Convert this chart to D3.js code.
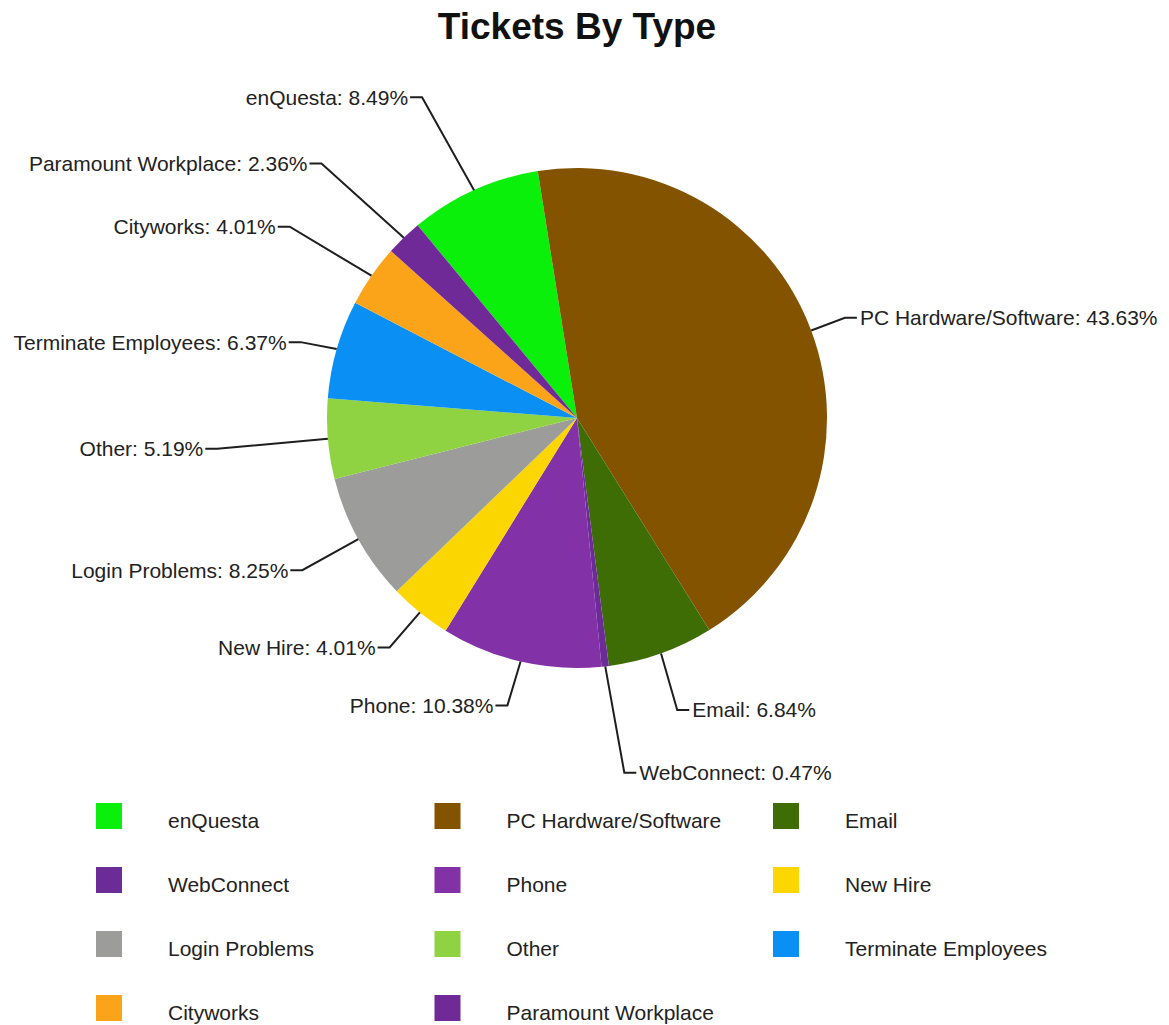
<!DOCTYPE html>
<html>
<head>
<meta charset="utf-8">
<script src="https://cdn.jsdelivr.net/npm/d3@7"></script>
<style>
  html, body { margin: 0; padding: 0; background: #ffffff; }
  svg { display: block; font-family: "Liberation Sans", Arial, sans-serif; }
</style>
</head>
<body>
<svg id="chart" width="1169" height="1025"></svg>
<script>
// Ticket categories, in the order the slices are drawn (clockwise)
const categories = [
  "enQuesta", "PC Hardware/Software", "Email", "WebConnect", "Phone",
  "New Hire", "Login Problems", "Other", "Terminate Employees",
  "Cityworks", "Paramount Workplace"
];

// Number of tickets logged per category
const ticketCounts = [36, 185, 29, 2, 44, 17, 35, 22, 27, 17, 10];

// Slice / legend colours
const sliceColors = [
  "#0af00a", "#845300", "#3f6d05", "#6c2c98", "#8331a6",
  "#fcd600", "#9c9c9a", "#8fd342", "#0a90f4", "#fba41a", "#6f2a98"
];

// Leader-line layout: distance of the elbow beyond the rim (px) and a
// sideways push of the elbow away from the pie (px), chosen so labels stay apart
const labelReach = [102, 36, 60, 107, 45, 45, 64, 118, 25, 86, 103];
const elbowNudge = [10, 0, -4, 7, 3, 2, 0, -7, 12, 11, 11];

const W = 1169, H = 1025;
const cx = 577, cy = 418, radius = 250;
const deg = Math.PI / 180;
const startAngle = -39.6 * deg;

const svg = d3.select("#chart");

// Title
svg.append("text")
  .attr("x", cx).attr("y", 39)
  .attr("text-anchor", "middle")
  .attr("font-size", 37).attr("font-weight", "bold")
  .attr("fill", "#111")
  .text("Tickets By Type");

const total = d3.sum(ticketCounts);
const rows = categories.map((name, i) => ({
  name, value: ticketCounts[i], color: sliceColors[i],
  reach: labelReach[i], nudge: elbowNudge[i]
}));

const pie = d3.pie()
  .sort(null)
  .value(d => d.value)
  .startAngle(startAngle)
  .endAngle(startAngle + 2 * Math.PI);

const arc = d3.arc().innerRadius(0).outerRadius(radius);
const arcs = pie(rows);

const g = svg.append("g").attr("transform", `translate(${cx},${cy})`);

g.selectAll("path.slice")
  .data(arcs)
  .join("path")
  .attr("class", "slice")
  .attr("d", arc)
  .attr("fill", d => d.data.color);

// Leader lines and labels
const fmt = v => (v / total * 100).toFixed(2) + "%";
const polar = (a, r) => [r * Math.sin(a), -r * Math.cos(a)];

arcs.forEach(d => {
  const mid = (d.startAngle + d.endAngle) / 2;
  const onLeft = Math.sin(mid) < 0;
  const side = onLeft ? -1 : 1;
  const [ax, ay] = polar(mid, radius);
  let [ex, ey] = polar(mid, radius + d.data.reach);
  ex += side * d.data.nudge;
  const hx = ex + side * 12;

  g.append("path")
    .attr("d", d3.line()([[ax, ay], [ex, ey], [hx, ey]]))
    .attr("fill", "none")
    .attr("stroke", "#1e1e1e")
    .attr("stroke-width", 2);

  g.append("text")
    .attr("x", hx + (onLeft ? -2 : 3))
    .attr("y", ey)
    .attr("dy", "0.35em")
    .attr("text-anchor", onLeft ? "end" : "start")
    .attr("font-size", 21)
    .attr("fill", "#222")
    .text(`${d.data.name}: ${fmt(d.data.value)}`);
});

// Legend: three columns, filled row by row
const legendCols = 3;
const colX = d3.scaleLinear().domain([0, 1]).range([96, 434.5]);
const rowY = d3.scaleLinear().domain([0, 1]).range([803, 867]);

const legend = svg.append("g");
const items = legend.selectAll("g.item")
  .data(rows)
  .join("g")
  .attr("class", "item")
  .attr("transform", (d, i) => `translate(${colX(i % legendCols)},${rowY(Math.floor(i / legendCols))})`);

items.append("rect")
  .attr("width", 26).attr("height", 26)
  .attr("fill", d => d.color);

items.append("text")
  .attr("x", 72).attr("y", 25)
  .attr("font-size", 21)
  .attr("fill", "#222")
  .text(d => d.name);
</script>
</body>
</html>
